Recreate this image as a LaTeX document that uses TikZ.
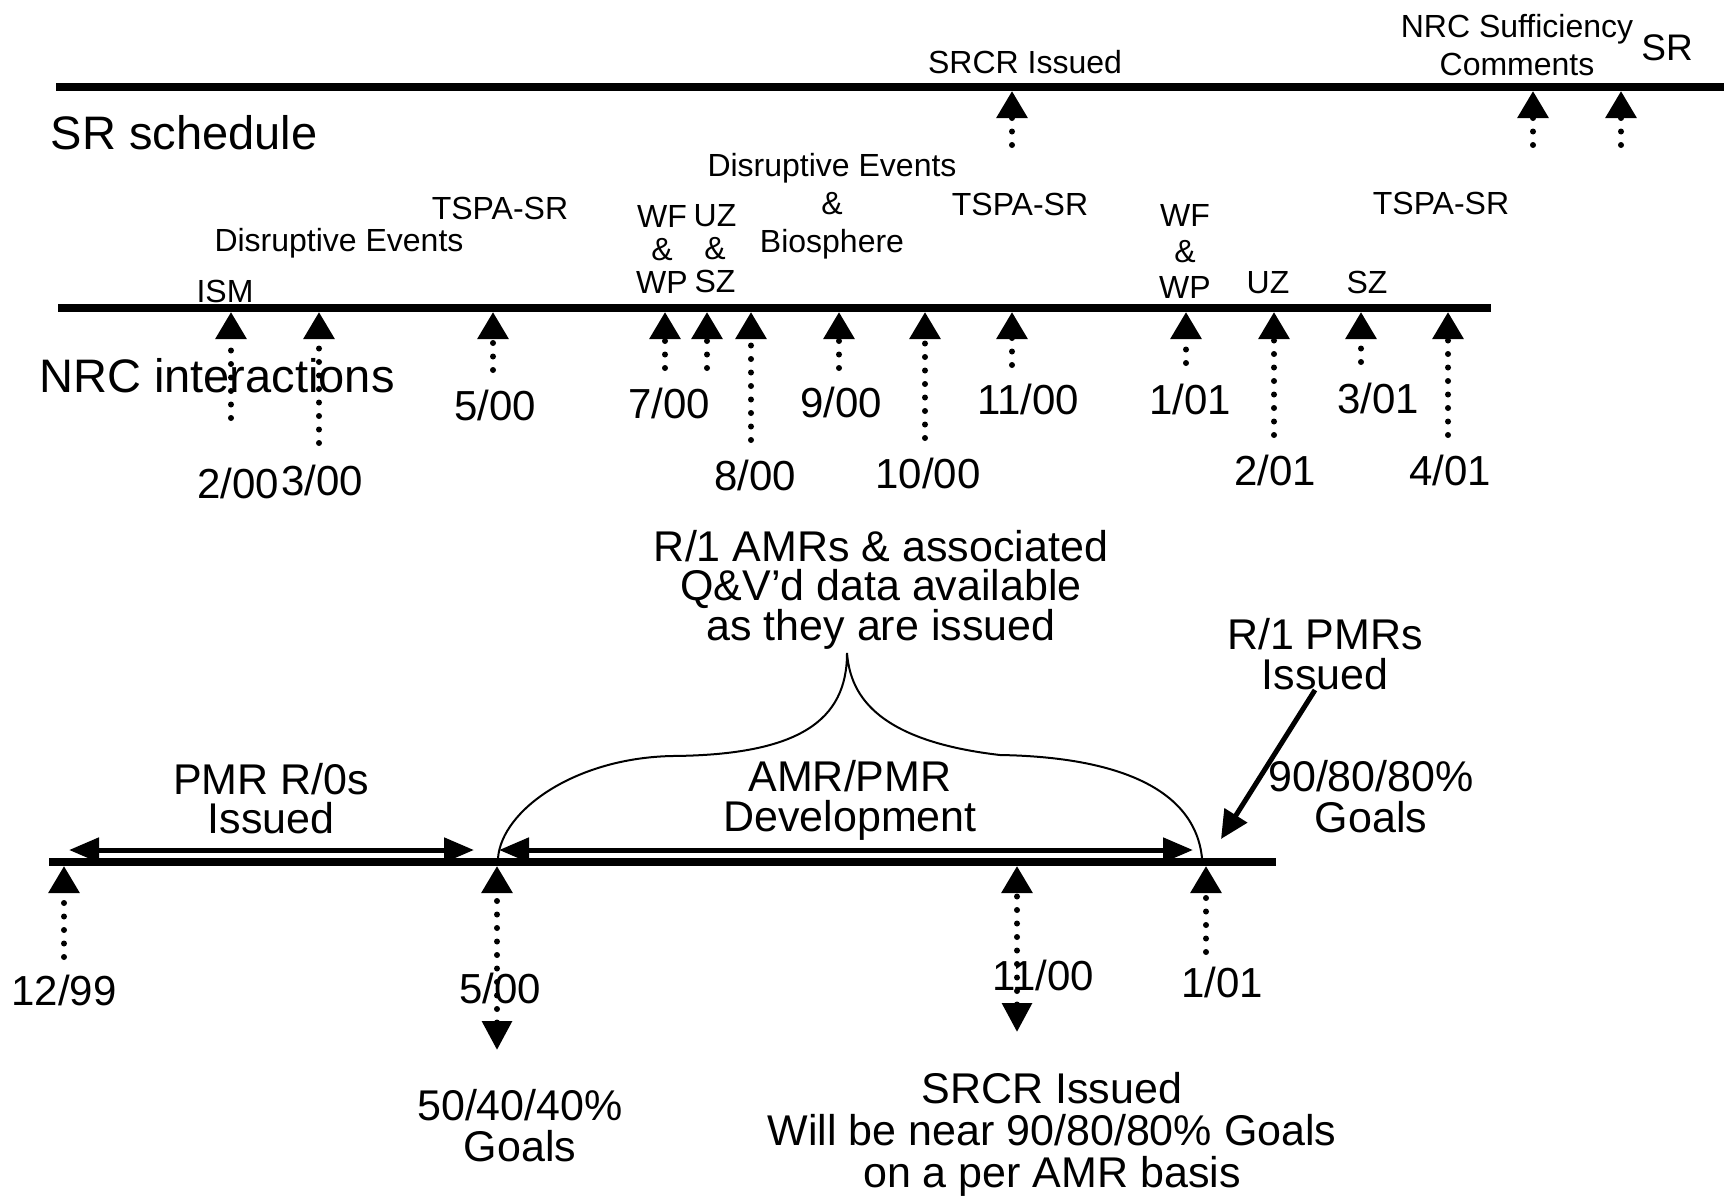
\documentclass[tikz,border=0pt]{standalone}
\usepackage{fontspec}
\setmainfont{Liberation Sans}
\usetikzlibrary{arrows.meta}

\begin{document}
\begin{tikzpicture}[x=1pt, y=-1pt,
  % Text styles
  lbl/.style={inner sep=0pt, align=center, font=\fontsize{32}{34}\selectfont},
  lblone/.style={lbl, text height=23pt, text depth=0pt},
  date/.style={inner sep=0pt, font=\fontsize{42}{42}\selectfont, text height=30pt, text depth=0pt},
  note/.style={inner sep=0pt, align=center, font=\fontsize{43}{39}\selectfont},
  head/.style={inner sep=0pt, font=\fontsize{47}{47}\selectfont, text height=34pt, text depth=0pt},
  % Line styles
  bar/.style={line width=8pt},
  tick/.style={line width=6pt, line cap=round, dash pattern=on 0pt off 13.5pt,
               -{Triangle[length=27pt, width=30pt]}},
  tickboth/.style={tick, {Triangle[length=29pt, width=29pt]}-{Triangle[length=27pt, width=30pt]}},
  span/.style={line width=5pt, {Triangle[length=30pt, width=24pt]}-{Triangle[length=30pt, width=24pt]}},
  pointer/.style={line width=5pt, -{Triangle[length=28pt, width=26pt]}},
  brace/.style={line width=2pt},
]
\useasboundingbox (0,0) rectangle (1724,1195);

% === SR schedule ===
\draw[bar] (56,87) -- (1724,87);
\node[head] (srSched) at (184,132) {SR schedule};
\node[lblone] (srcrTop) at (1025,62) {SRCR Issued};
\node[lbl, font=\fontsize{32}{38}\selectfont] (nrcSuff) at (1517,45) {NRC Sufficiency\\Comments};
\node[lblone, font=\fontsize{37}{37}\selectfont, text height=26.5pt] (srTop) at (1667,47) {SR};

\coordinate (srcrTip) at (1012,91);  \coordinate (srcrEnd) at (1012,145);
\coordinate (suffTip) at (1533,91);  \coordinate (suffEnd) at (1533,145);
\coordinate (srTip)   at (1621,91);  \coordinate (srEnd)   at (1621,145);
\draw[tick] (srcrEnd) -- (srcrTip);
\draw[tick] (suffEnd) -- (suffTip);
\draw[tick] (srEnd)   -- (srTip);

% === NRC interactions ===
\draw[bar] (58,308) -- (1491,308);
\node[head] (nrcInt) at (217,375) {NRC interactions};

% labels above the line
\node[lblone] (ism)   at (225,291)  {ISM};
\node[lblone] (disA)  at (339,240)  {Disruptive Events};
\node[lblone] (tspaA) at (500,208)  {TSPA-SR};
\node[lbl, font=\fontsize{32}{33}\selectfont] (wfA) at (662,249) {WF\\\&\\WP};
\node[lbl, font=\fontsize{32}{33}\selectfont] (uzA) at (715,249) {UZ\\\&\\SZ};
\node[lbl, font=\fontsize{32}{38}\selectfont] (disB) at (832,206) {Disruptive Events\\\&\\Biosphere};
\node[lblone] (tspaB) at (1020,204) {TSPA-SR};
\node[lbl, font=\fontsize{32}{36}\selectfont] (wfB) at (1185,251) {WF\\\&\\WP};
\node[lblone] (uzB)   at (1268,282) {UZ};
\node[lblone] (szB)   at (1367,282) {SZ};
\node[lblone] (tspaC) at (1441,203) {TSPA-SR};

% dates below the line
\node[date] (d200)  at (238,483)  {2/00};
\node[date] (d300)  at (322,480)  {3/00};
\node[date] (d500)  at (495,405)  {5/00};
\node[date] (d700)  at (669,403)  {7/00};
\node[date] (d800)  at (755,475)  {8/00};
\node[date] (d900)  at (841,402)  {9/00};
\node[date] (d1000) at (928,473)  {10/00};
\node[date] (d1100) at (1028,399) {11/00};
\node[date] (d101)  at (1190,399) {1/01};
\node[date] (d201)  at (1275,470) {2/01};
\node[date] (d301)  at (1378,398) {3/01};
\node[date] (d401)  at (1450,470) {4/01};

\coordinate (n200Tip)  at (231,312);  \coordinate (n200End)  at (231,418);
\coordinate (n300Tip)  at (319,312);  \coordinate (n300End)  at (319,443);
\coordinate (n500Tip)  at (493,312);  \coordinate (n500End)  at (493,370);
\coordinate (n700Tip)  at (665,312);  \coordinate (n700End)  at (665,368);
\coordinate (nuzTip)   at (707,312);  \coordinate (nuzEnd)   at (707,368);
\coordinate (n800Tip)  at (751,312);  \coordinate (n800End)  at (751,440);
\coordinate (n900Tip)  at (839,312);  \coordinate (n900End)  at (839,368);
\coordinate (n1000Tip) at (925,312);  \coordinate (n1000End) at (925,438);
\coordinate (n1100Tip) at (1012,312); \coordinate (n1100End) at (1012,365);
\coordinate (n101Tip)  at (1186,312); \coordinate (n101End)  at (1186,363);
\coordinate (n201Tip)  at (1274,312); \coordinate (n201End)  at (1274,435);
\coordinate (n301Tip)  at (1361,312); \coordinate (n301End)  at (1361,362);
\coordinate (n401Tip)  at (1448,312); \coordinate (n401End)  at (1448,435);
\draw[tick] (n200End)  -- (n200Tip);
\draw[tick] (n300End)  -- (n300Tip);
\draw[tick] (n500End)  -- (n500Tip);
\draw[tick] (n700End)  -- (n700Tip);
\draw[tick] (nuzEnd)   -- (nuzTip);
\draw[tick] (n800End)  -- (n800Tip);
\draw[tick] (n900End)  -- (n900Tip);
\draw[tick] (n1000End) -- (n1000Tip);
\draw[tick] (n1100End) -- (n1100Tip);
\draw[tick] (n101End)  -- (n101Tip);
\draw[tick] (n201End)  -- (n201Tip);
\draw[tick] (n301End)  -- (n301Tip);
\draw[tick] (n401End)  -- (n401Tip);

% === Development timeline ===
\draw[bar] (49,862) -- (1276,862);

\node[note] (r1amr)   at (881,590)  {R/1 AMRs \& associated\\Q\&V'd data available\\as they are issued};
\node[note] (pmrR0)   at (271,799)  {PMR R/0s\\Issued};
\node[note, font=\fontsize{43}{40}\selectfont] (amrDev) at (850,800) {AMR/PMR\\Development};
\node[note, font=\fontsize{43}{40}\selectfont] (r1pmr)  at (1325,654) {R/1 PMRs\\Issued};
\node[note, font=\fontsize{43}{41}\selectfont] (goals90) at (1371,797) {90/80/80\%\\Goals};
\node[note, font=\fontsize{43}{41}\selectfont] (goals50) at (520,1126) {50/40/40\%\\Goals};
\node[note, font=\fontsize{43}{42}\selectfont] (srcrBot) at (1052,1134) {SRCR Issued\\Will be near 90/80/80\% Goals\\on a per AMR basis};

\node[date] (e1299) at (64,990)   {12/99};
\node[date] (e500)  at (500,988)  {5/00};
\node[date] (e1100) at (1043,975) {11/00};
\node[date] (e101)  at (1222,982) {1/01};

% spans above the line
\coordinate (pmrL) at (69,850);  \coordinate (pmrR) at (474,850);
\coordinate (amrL) at (499,850); \coordinate (amrR) at (1193,850);
\draw[span] (pmrL) -- (pmrR);
\draw[span] (amrL) -- (amrR);

% brace
\coordinate (braceL) at (498,858);
\coordinate (braceTip) at (847,653);
\coordinate (braceR) at (1202,858);
\draw[brace] (braceL) .. controls (502,810) and (575,758) .. (672,756)
  .. controls (800,755) and (847,720) .. (braceTip)
  .. controls (850,690) and (870,740) .. (1000,755)
  .. controls (1120,757) and (1195,790) .. (braceR);

% R/1 PMRs pointer
\coordinate (pmrTip) at (1221,839);
\draw[pointer] ([xshift=-10pt]r1pmr.south) -- (pmrTip);

% ticks below the line
\coordinate (b1299Tip) at (64,866);   \coordinate (b1299End) at (64,957);
\coordinate (b500Tip)  at (497,866);  \coordinate (b500End)  at (497,1050);
\coordinate (b1100Tip) at (1017,866); \coordinate (b1100End) at (1017,1032);
\coordinate (b101Tip)  at (1206,866); \coordinate (b101End)  at (1206,952);
\draw[tick]     (b1299End) -- (b1299Tip);
\draw[tickboth] (b500End)  -- (b500Tip);
\draw[tickboth] (b1100End) -- (b1100Tip);
\draw[tick]     (b101End)  -- (b101Tip);

\end{tikzpicture}
\end{document}
